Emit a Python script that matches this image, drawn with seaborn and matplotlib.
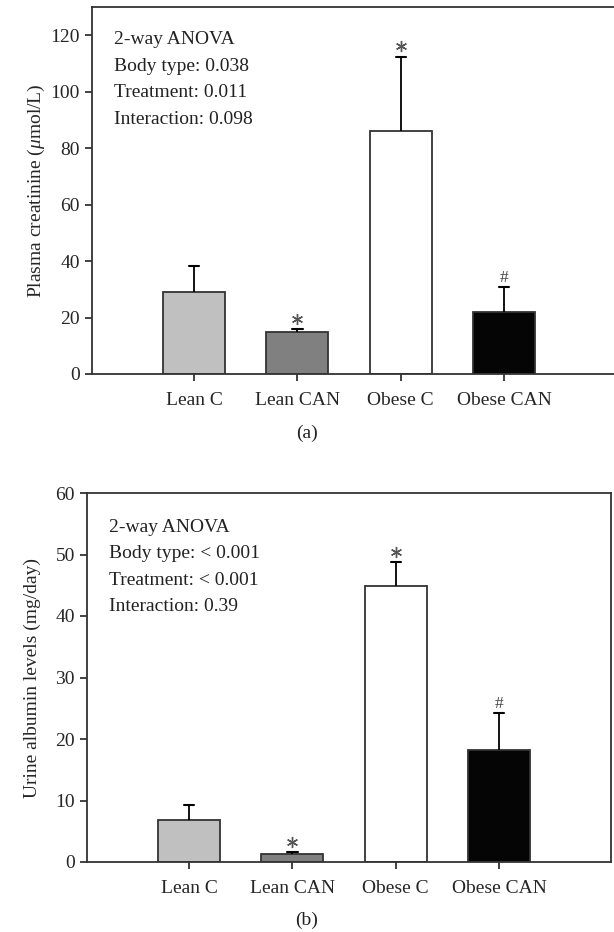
import matplotlib
matplotlib.use("Agg")
import matplotlib.pyplot as plt
import seaborn as sns
import pandas as pd

groups = ["Lean C", "Lean CAN", "Obese C", "Obese CAN"]
creat_mean = [29.1, 14.9, 86.2, 21.9]
creat_err = [9.2, 0.9, 26.2, 8.9]
creat_marks = ["", "*", "*", "#"]
alb_mean = [6.8, 1.25, 44.9, 18.2]
alb_err = [2.4, 0.3, 3.8, 6.0]
alb_marks = ["", "*", "*", "#"]
bar_colors = ["#c0c0c0", "#808080", "#ffffff", "#050505"]

creat_text = ["2-way ANOVA", "Body type: 0.038", "Treatment: 0.011", "Interaction: 0.098"]
alb_text = ["2-way ANOVA", "Body type: < 0.001", "Treatment: < 0.001", "Interaction: 0.39"]

sns.set_theme(style="ticks")
plt.rcParams["font.family"] = ["Liberation Serif", "DejaVu Serif"]
plt.rcParams["mathtext.fontset"] = "custom"
plt.rcParams["mathtext.it"] = "Liberation Serif:italic"
plt.rcParams["mathtext.rm"] = "Liberation Serif"

W, H = 614, 932
fig = plt.figure(figsize=(W / 100, H / 100), dpi=100)

def panel(rect, means, errs, marks, ylim, yticks, ylabel, label_x, texts, text_y0, letter, letter_y):
    left, top, right, bottom = rect
    ax = fig.add_axes([left / W, 1 - bottom / H, (right - left) / W, (bottom - top) / H])
    df = pd.DataFrame({"group": groups, "value": means})
    sns.barplot(data=df, x="group", y="value", hue="group", palette=bar_colors,
                order=groups, hue_order=groups, width=0.6, legend=False, ax=ax,
                edgecolor="#333333", linewidth=1.3, saturation=1, err_kws={"linewidth": 0})
    for i, (m, e, mk) in enumerate(zip(means, errs, marks)):
        ax.errorbar(i, m + e / 2, yerr=[[e / 2], [e / 2]], fmt="none", ecolor="black",
                    elinewidth=1.3, capsize=0, zorder=1)
        ax.plot([i - 0.05, i + 0.05], [m + e, m + e], color="black", lw=1.5, zorder=3)
        if mk == "*":
            ax.plot([i], [m + e], linestyle="none", marker=(6, 2, 0), markersize=8,
                    markeredgewidth=1.0, color="#555555",
                    transform=ax.transData + matplotlib.transforms.ScaledTranslation(
                        0, 10.7 / 100, fig.dpi_scale_trans))
        elif mk:
            ax.annotate(mk, (i, m + e), xytext=(0, 3.4), textcoords="offset points",
                        ha="center", va="baseline", fontsize=12.5, color="#444444")
    ax.set_xlim(-0.99, 4.08)
    ax.set_ylim(*ylim)
    ax.set_yticks(yticks)
    ax.set_xlabel("")
    ax.set_ylabel(ylabel, fontsize=14)
    ax.yaxis.set_label_coords(label_x, 0.5)
    ax.tick_params(axis="both", labelsize=14, length=5, width=1.2, color="#222222",
                   direction="out")
    ax.tick_params(axis="x", pad=8)
    for s in ax.spines.values():
        s.set_visible(True)
        s.set_color("#333333")
        s.set_linewidth(1.3)
    for k, t in enumerate(texts):
        ax.text(22 / (right - left), 1 - (text_y0 + 26.5 * k - top) / (bottom - top), t,
                transform=ax.transAxes, fontsize=14, color="#222222",
                ha="left", va="baseline")
    fig.text(307 / W, 1 - letter_y / H, letter, ha="center", va="center", fontsize=14,
             color="#222222")
    return ax

panel((91.7, 7, 615.7, 374), creat_mean, creat_err, creat_marks, (0, 130),
      [0, 20, 40, 60, 80, 100, 120], r"Plasma creatinine ($\mu$mol/L)", -0.086,
      creat_text, 44.3, "(a)", 433)
panel((86.7, 493, 610.7, 862), alb_mean, alb_err, alb_marks, (0, 60),
      [0, 10, 20, 30, 40, 50, 60], "Urine albumin levels (mg/day)", -0.088,
      alb_text, 531.7, "(b)", 920)

fig.savefig("out.png", dpi=100)
